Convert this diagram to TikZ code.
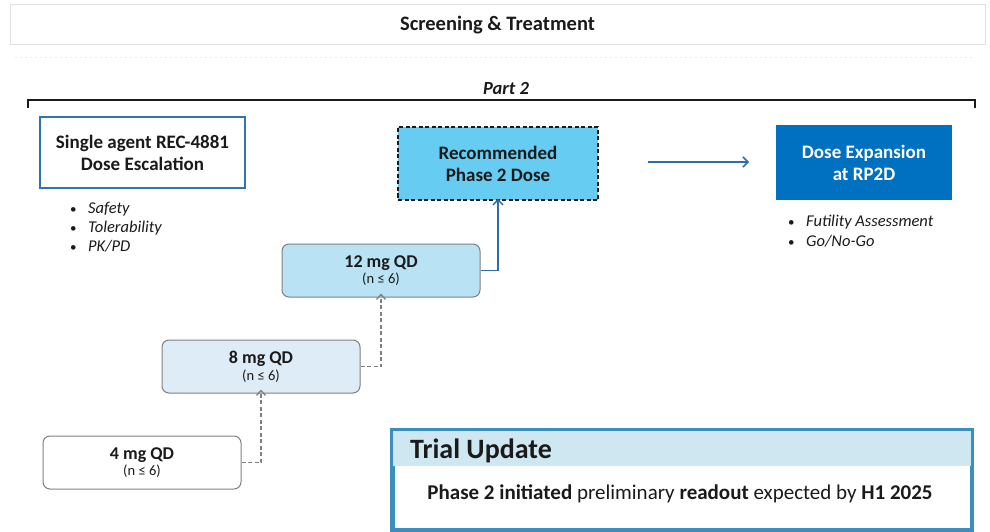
\documentclass[tikz,border=0pt]{standalone}
\usepackage{fontspec}
\setmainfont{Carlito}
\usetikzlibrary{arrows.meta}
\definecolor{boxblue}{HTML}{2E75B6}
\definecolor{recfill}{HTML}{66CCF2}
\definecolor{expfill}{HTML}{0070C0}
\definecolor{twelvefill}{HTML}{B9E2F5}
\definecolor{eightfill}{HTML}{DDECF7}
\definecolor{dosegray}{HTML}{808080}
\definecolor{arrowblue}{HTML}{2F6AAE}
\definecolor{tuborder}{HTML}{3A8FBF}
\definecolor{tuhead}{HTML}{CFE7F1}
\definecolor{txt}{HTML}{1A1A1A}
\tikzset{
  banner/.style={draw=black!12, line width=1pt, minimum width=975pt, minimum height=40pt, inner sep=0pt, font=\fontsize{20.5}{24}\selectfont\bfseries, text=txt},
  titlebox/.style={draw=boxblue, line width=1.6pt, fill=white, minimum width=205pt, minimum height=71pt, align=center, inner sep=0pt, font=\fontsize{19}{22}\selectfont\bfseries, text=txt},
  recbox/.style={draw=txt, dashed, dash pattern=on 4pt off 2.5pt, line width=1.6pt, fill=recfill, minimum width=200pt, minimum height=73pt, align=center, inner sep=0pt, font=\fontsize{19}{22}\selectfont\bfseries, text=txt},
  expbox/.style={fill=expfill, minimum width=176pt, minimum height=75pt, align=center, inner sep=0pt, font=\fontsize{19}{22}\selectfont\bfseries, text=white},
  dosebox/.style={draw=dosegray, line width=1pt, rounded corners=7pt, minimum width=198pt, minimum height=53pt, align=center, inner sep=0pt, text=txt},
  bullet/.style={anchor=base west, inner sep=0pt, font=\fontsize{16.5}{19}\selectfont\itshape, text=txt},
  stepline/.style={draw=dosegray, line width=1.3pt, dash pattern=on 4pt off 2.5pt, -{Straight Barb[length=5pt,width=9pt]}},
  blueline/.style={draw=arrowblue, line width=1.5pt, -{Straight Barb[length=5pt,width=10pt]}},
}
\newcommand{\bul}{\makebox[18pt][l]{\upshape\fontsize{13}{13}\selectfont\textbullet}}
\newcommand{\dosetext}[1]{{\fontsize{18}{19}\selectfont\bfseries #1}\\[2pt]{\fontsize{14.5}{16}\selectfont (n ≤ 6)}}
\begin{document}
\begin{tikzpicture}[x=1pt,y=-1pt]
\useasboundingbox (0,0) rectangle (990,532);
\fill[white] (0,0) rectangle (990,532);

\node[banner] (banner) at (497.5,25) {Screening \& Treatment};
\draw[black!8, line width=0.8pt, dash pattern=on 2pt off 3pt] (15,57) -- (975,57);

\node[font=\fontsize{18.5}{20}\selectfont\bfseries\itshape, text=txt] (part) at (506,89) {Part 2};
\draw[txt, line width=1.6pt] (28,108) -- (28,100) -- (975,100) -- (975,108);

\node[titlebox] (single) at (142.5,152.5) {Single agent REC-4881\\Dose Escalation};
\node[bullet] (b1) at (70,213) {\bul Safety};
\node[bullet] (b2) at (70,232) {\bul Tolerability};
\node[bullet] (b3) at (70,251) {\bul PK/PD};

\node[recbox] (rec) at (498,163.5) {Recommended\\Phase 2 Dose};
\node[expbox] (exp) at (864,162.5) {Dose Expansion\\at RP2D};
\node[bullet] (e1) at (788,226) {\bul Futility Assessment};
\node[bullet] (e2) at (788,246) {\bul Go/No-Go};

\coordinate (arrS) at (648,162);
\coordinate (arrE) at (749,162);
\draw[blueline] (arrS) -- (arrE);

\node[dosebox, fill=twelvefill] (d12) at (381,270.5) {\dosetext{12 mg QD}};
\node[dosebox, fill=eightfill] (d8) at (261,366.5) {\dosetext{8 mg QD}};
\node[dosebox, fill=white] (d4) at (142,462.5) {\dosetext{4 mg QD}};

\draw[stepline] (d4.east) -| ([yshift=4pt]d8.south);
\draw[stepline] (d8.east) -| ([yshift=4pt]d12.south);
\draw[blueline] (d12.east) -| ([yshift=2pt]rec.south);

\node[draw=tuborder, line width=3pt, minimum width=578pt, minimum height=98pt, inner sep=0pt] (tu) at (682,480) {};
\fill[tuhead] ([shift={(1.5pt,-1.5pt)}]tu.north west) rectangle ([shift={(-1.5pt,-36pt)}]tu.north east);
\draw[tuborder, line width=3pt] (tu.north west) rectangle (tu.south east);
\node[anchor=west, inner sep=0pt, font=\fontsize{28}{32}\selectfont\bfseries, text=txt] (tutitle) at (410,451) {Trial Update};
\node[inner sep=0pt, font=\fontsize{21}{24}\selectfont, text=txt] (tubody) at (680,494) {\textbf{Phase 2 initiated} preliminary \textbf{readout} expected by \textbf{H1 2025}};
\end{tikzpicture}
\end{document}
